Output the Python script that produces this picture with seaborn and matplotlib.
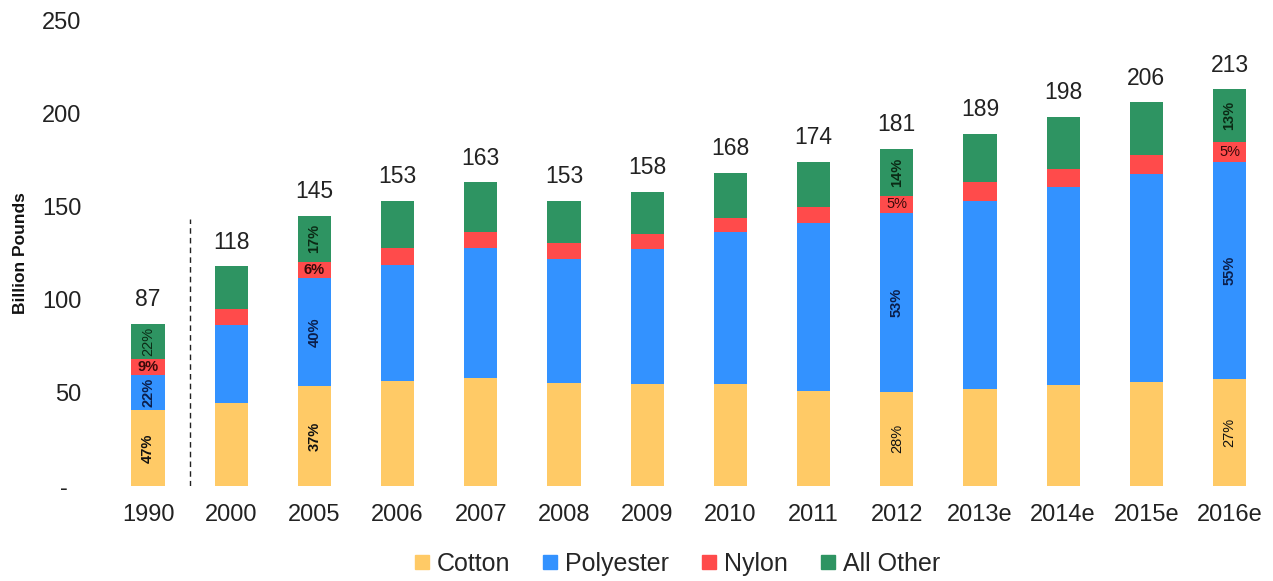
import pandas as pd
import matplotlib
matplotlib.use("Agg")
import matplotlib.pyplot as plt
from matplotlib.lines import Line2D
import seaborn as sns

# --- Settings ---
sns.set_style("white")
plt.rcParams["font.family"] = ["Liberation Sans", "DejaVu Sans"]

# --- Colors ---
c_cotton = "#FFCA66"
c_poly = "#3392FF"
c_nylon = "#FF4B4B"
c_other = "#2E9462"

# --- Data (billion pounds) ---
years = ["1990", "2000", "2005", "2006", "2007", "2008", "2009",
         "2010", "2011", "2012", "2013e", "2014e", "2015e", "2016e"]
cotton = [40.9, 44.3, 53.7, 56.4, 58.2, 55.1, 54.6, 54.7, 51.0, 50.7, 51.9, 54.2, 55.8, 57.5]
polyester = [18.9, 42.1, 58.0, 62.4, 69.6, 66.8, 72.3, 81.4, 89.9, 95.9, 101.2, 106.0, 111.8, 116.3]
nylon = [8.6, 8.5, 8.7, 9.0, 8.5, 8.6, 8.3, 7.8, 8.6, 9.0, 10.0, 9.9, 9.8, 10.5]
other = [18.6, 23.1, 24.6, 25.2, 26.7, 22.5, 22.8, 24.1, 24.5, 25.4, 25.9, 27.9, 28.6, 28.7]
totals = [87, 118, 145, 153, 163, 153, 158, 168, 174, 181, 189, 198, 206, 213]

# share labels: year -> (cotton, polyester, nylon, other)
pct_labels = {
    "1990": ["47%", "22%", "9%", "22%"],
    "2005": ["37%", "40%", "6%", "17%"],
    "2012": ["28%", "53%", "5%", "14%"],
    "2016e": ["27%", "55%", "5%", "13%"],
}
pct_bold = {
    "1990": [True, True, True, False],
    "2005": [True, True, True, True],
    "2012": [False, True, False, True],
    "2016e": [False, True, False, True],
}
label_colors = ["#111111", "#0B1E4A", "#3A0A0A", "#0B2A15"]

df = pd.DataFrame({"year": years, "cotton": cotton, "polyester": polyester,
                   "nylon": nylon, "other": other})
df["c1"] = df["cotton"]
df["c2"] = df["c1"] + df["polyester"]
df["c3"] = df["c2"] + df["nylon"]
df["c4"] = df["c3"] + df["other"]

fig = plt.figure(figsize=(12.73, 5.81), dpi=100)
ax = fig.add_axes([0.0738, 0.1635, 0.9215, 0.802])

# stacked bars drawn as overlapping cumulative bars
for col, color in [("c4", c_other), ("c3", c_nylon), ("c2", c_poly), ("c1", c_cotton)]:
    sns.barplot(data=df, x="year", y=col, color=color, width=0.4,
                saturation=1, linewidth=0, ax=ax)

# totals above bars
for i, t in enumerate(totals):
    ax.annotate(str(t), xy=(i, df["c4"][i]), xytext=(0, 9), textcoords="offset points",
                ha="center", va="bottom", fontsize=16.5, color="#222222")

# share labels inside segments
for yr, labs in pct_labels.items():
    i = years.index(yr)
    bottoms = [0, df["c1"][i], df["c2"][i], df["c3"][i]]
    tops = [df["c1"][i], df["c2"][i], df["c3"][i], df["c4"][i]]
    for k in range(4):
        mid = (bottoms[k] + tops[k]) / 2
        rot = 0 if k == 2 else 90
        ax.text(i, mid, labs[k], ha="center", va="center", rotation=rot,
                fontsize=10.5, color=label_colors[k],
                fontweight="bold" if pct_bold[yr][k] else "normal")

# separator between 1990 and 2000
ax.plot([0.5, 0.5], [0, 143], color="#222222", lw=1, ls=(0, (4, 3)))

ax.set_xlim(-0.65, 13.45)
ax.set_ylim(0, 250)
ax.set_yticks([0, 50, 100, 150, 200, 250])
ax.set_yticklabels(["-\u00a0\u00a0", "50", "100", "150", "200", "250"])
ax.tick_params(axis="y", length=0, pad=9, labelsize=17, labelcolor="#222222")
ax.tick_params(axis="x", length=0, pad=13, labelsize=17, labelcolor="#222222")
ax.set_xlabel("")
ax.set_ylabel("")
fig.text(0.016, 0.565, "Billion Pounds", rotation=90, ha="center", va="center",
         fontsize=12.5, fontweight="bold", color="#111111")
sns.despine(ax=ax, left=True, bottom=True)

handles = [Line2D([], [], marker="s", ls="", markersize=10, color=c)
           for c in [c_cotton, c_poly, c_nylon, c_other]]
fig.legend(handles, ["Cotton", "Polyester", "Nylon", "All Other"], loc="center",
           bbox_to_anchor=(0.53, 0.03), ncol=4, frameon=False, fontsize=18,
           handletextpad=0.1, columnspacing=1.1, handlelength=1.0)

fig.savefig("out.png", dpi=100)
